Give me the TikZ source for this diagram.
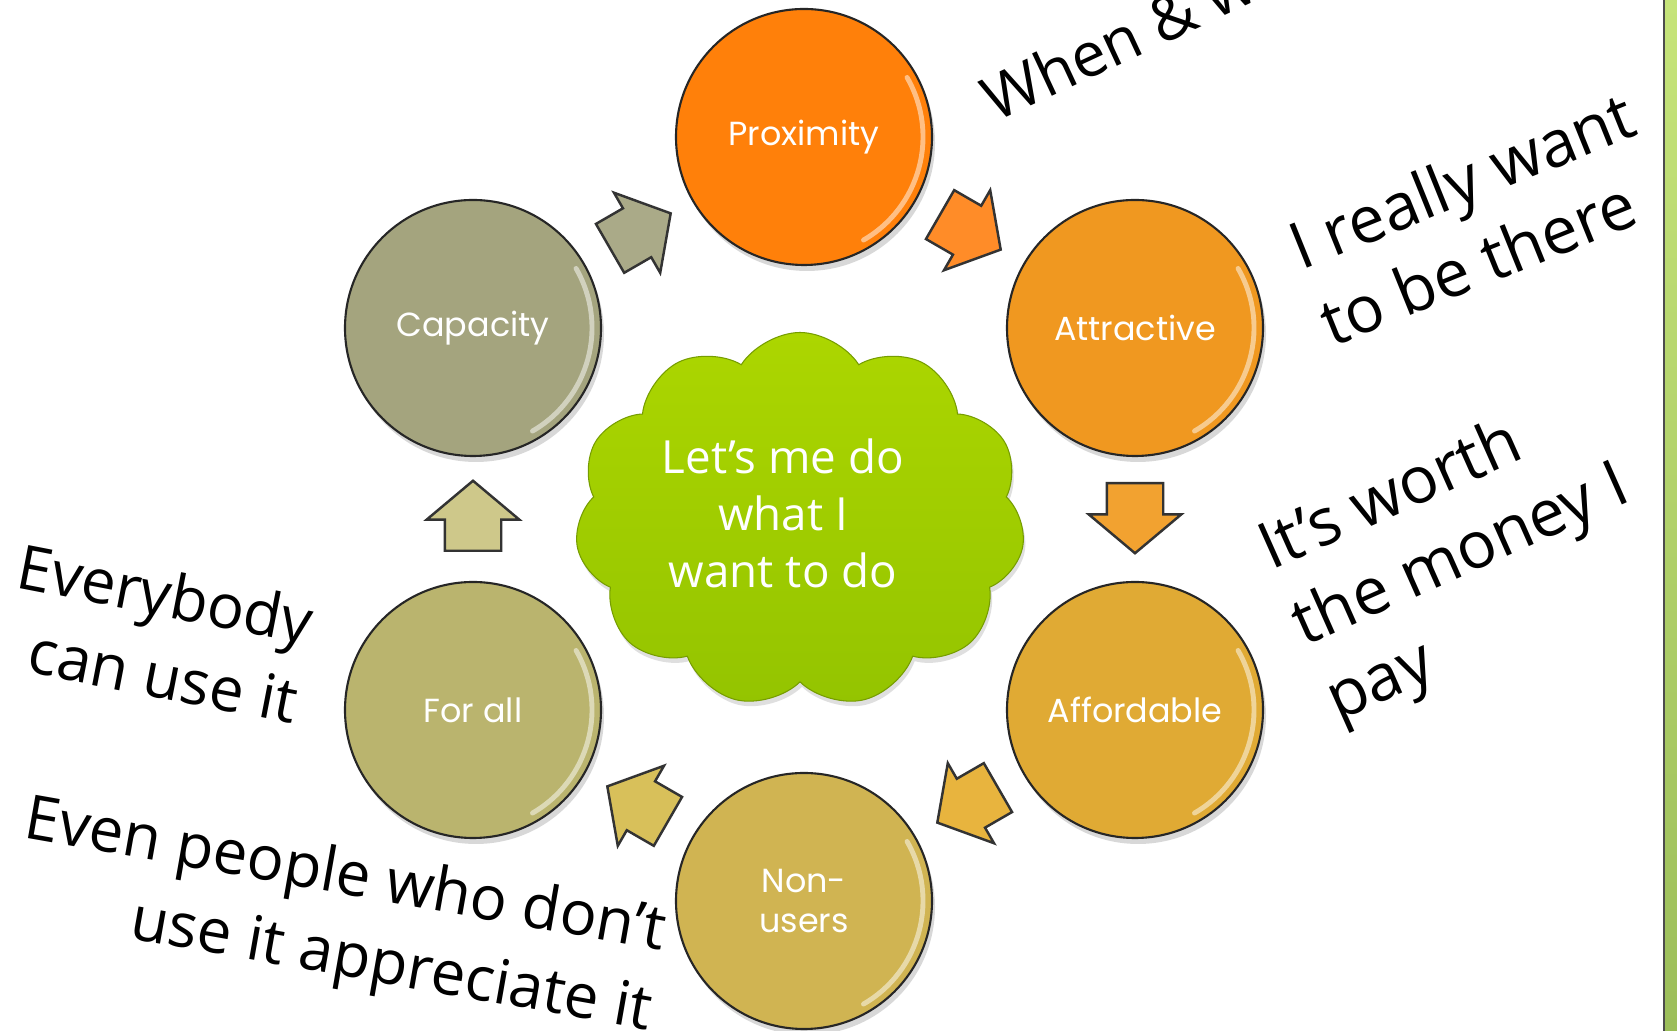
\documentclass[tikz,border=0pt]{standalone}
\usepackage{fontspec}
\usetikzlibrary{shapes.symbols,shapes.arrows,shadows}
\newfontfamily\labelfont{Poppins}
\newfontfamily\handfont{Open Sans}
\definecolor{proxcol}{RGB}{255,128,10}
\definecolor{attrcol}{RGB}{240,152,32}
\definecolor{affordcol}{RGB}{224,170,52}
\definecolor{nonusecol}{RGB}{208,180,82}
\definecolor{forallcol}{RGB}{186,180,110}
\definecolor{capcol}{RGB}{164,164,126}
\definecolor{arrcap}{RGB}{170,170,136}
\definecolor{arrprox}{RGB}{255,140,40}
\definecolor{arrattr}{RGB}{242,162,48}
\definecolor{arraff}{RGB}{232,180,62}
\definecolor{arrnon}{RGB}{216,192,90}
\definecolor{arrfor}{RGB}{206,200,138}
\definecolor{cloudtop}{RGB}{172,214,0}
\definecolor{cloudbot}{RGB}{148,196,0}
\definecolor{striptop}{RGB}{198,228,122}
\definecolor{stripbot}{RGB}{156,190,90}
\tikzset{
  ring/.style={circle, draw=black!85, line width=0.6pt, minimum size=2.56cm, inner sep=0pt,
    text=white, align=center, font=\labelfont\fontsize{9.5}{11.5}\selectfont,
    drop shadow={opacity=0.3, shadow xshift=0.03cm, shadow yshift=-0.06cm}},
  flowarrow/.style={single arrow, draw=black!80, line width=0.7pt, minimum height=0.70cm,
    minimum width=0.90cm, single arrow head extend=0.18cm, single arrow tip angle=100,
    inner xsep=0pt, inner ysep=0.27cm, anchor=tail},
  handnote/.style={font=\handfont\fontsize{17.5}{23}\selectfont, inner sep=0pt},
  bignote/.style={handnote, font=\handfont\fontsize{18.5}{23.5}\selectfont},
  gloss/.style={white, opacity=0.5, line width=1.4pt, line cap=round}
}
\begin{document}
\begin{tikzpicture}
          \useasboundingbox (0,0) rectangle (16.77,10.31);
          \fill[white] (0,0) rectangle (16.77,10.31);
          \clip (0,0) rectangle (16.77,10.31);
          \fill[top color=striptop, bottom color=stripbot] (16.64,0) rectangle (16.77,10.31);
          \draw[black!70, line width=0.8pt] (16.64,0) -- (16.64,10.31);
          \node[cloud, cloud puffs=11, cloud puff arc=115, aspect=1.2, minimum width=4.5cm, minimum height=3.75cm,
            top color=cloudtop, bottom color=cloudbot, draw=cloudbot!80!black, line width=0.3pt,
            drop shadow={opacity=0.25, shadow xshift=0.02cm, shadow yshift=-0.05cm}] (wish) at (8.00,5.11) {};
          \node[text=white, align=center, font=\handfont\fontsize{13}{16.2}\selectfont] (wishtext)
            at ([xshift=-0.17cm, yshift=0.07cm]wish.center) {Let’s me do\\what I\\want to do};
          \node[ring, fill=proxcol] (prox) at (8.04, 8.94) {Proximity};
          \node[ring, fill=attrcol] (attr) at (11.35, 7.03) {Attractive};
          \node[ring, fill=affordcol] (afford) at (11.35, 3.21) {Affordable};
          \node[ring, fill=nonusecol] (nonuse) at (8.04, 1.30) {Non-\\users};
          \node[ring, fill=forallcol] (forall) at (4.73, 3.21) {For all};
          \node[ring, fill=capcol] (cap) at (4.73, 7.03) {Capacity};
          \foreach \c in {prox,attr,afford,nonuse,forall,cap}
            \draw[gloss] ([shift={(-60:1.19)}]\c.center) arc[start angle=-60, end angle=30, radius=1.19];
          \node[flowarrow, fill=arrprox, rotate=-30] (toattr) at (9.39, 8.17) {};
          \node[flowarrow, fill=arrattr, rotate=-90] (toafford) at (11.35, 5.49) {};
          \node[flowarrow, fill=arraff, rotate=-150] (tononuse) at (9.99, 2.44) {};
          \node[flowarrow, fill=arrnon, rotate=150] (toforall) at (6.69, 2.09) {};
          \node[flowarrow, fill=arrfor, rotate=90] (tocap) at (4.73, 4.79) {};
          \node[flowarrow, fill=arrcap, rotate=30] (toprox) at (6.09, 7.82) {};
          \node[handnote, anchor=base west, rotate=25] (whennote) at (9.95, 9.08) {When \& where};
          \node[bignote, align=left, rotate=22] (therenote) at (14.77, 8.13) {I really want\\to be there};
          \node[bignote, align=left, rotate=24] (worthnote) at (14.62, 4.73) {It’s worth\\the money I\\pay};
          \node[handnote, align=right, rotate=-11] (bodynote) at (1.58, 3.98) {Everybody\\can use it};
          \node[handnote, align=right, rotate=-10] (evennote) at (3.38, 1.13) {Even people who don’t\\use it appreciate it};
        \end{tikzpicture}
\end{document}
